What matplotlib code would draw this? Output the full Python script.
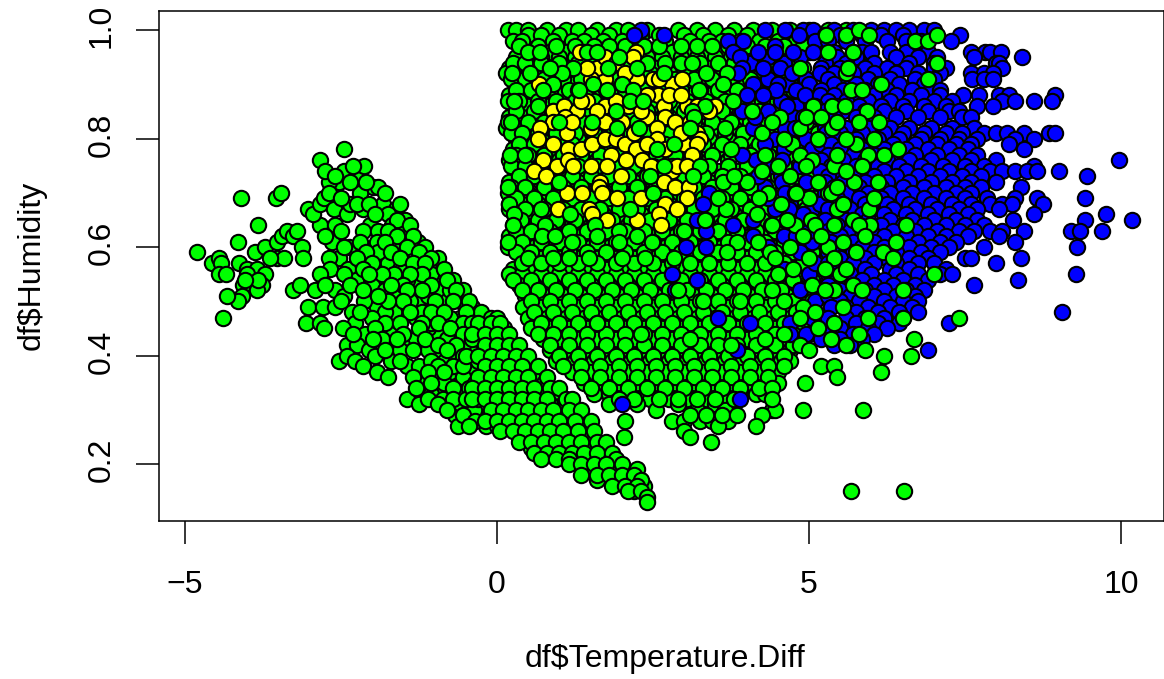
import matplotlib
matplotlib.use("Agg")
import matplotlib.pyplot as plt
from matplotlib.transforms import ScaledTranslation

plt.rcParams['font.family'] = ['Liberation Sans', 'DejaVu Sans']

x_label = "df$Temperature.Diff"
y_label = "df$Humidity"
x_ticks = [-5, 0, 5, 10]
y_ticks = [0.2, 0.4, 0.6, 0.8, 1.0]
x_tick_labels = ["\u22125", "0", "5", "10"]
y_tick_labels = ["0.2", "0.4", "0.6", "0.8", "1.0"]

# left wedge of green points, read individually (temperature diff, humidity)
wedge_left = [
(-2.46,.78),(-2.83,.76),(-4.1,.69),(-3.54,.69),(-3.46,.70),(-3.83,.64),(-4.15,.61),(-4.8,.59),(-4.56,.57),(-4.45,.58),
(-4.42,.57),(-4.45,.55),(-4.34,.55),(-4.13,.57),(-4.0,.56),(-3.85,.56),(-3.72,.55),(-4.0,.55),(-4.07,.53),(-3.77,.53),
(-3.85,.52),(-3.83,.54),(-4.04,.54),(-4.09,.51),(-4.15,.50),(-4.33,.51),(-4.39,.47),(-3.88,.59),(-3.72,.60),(-3.53,.58),
(-3.41,.58),(-3.64,.58),(-3.53,.61),(-3.45,.62),(-3.37,.63),(-3.27,.62),(-3.2,.63),(-3.12,.60),(-3.11,.58),(-3.27,.52),
(-3.15,.53),(-3.06,.46),(-2.84,.46),(-2.78,.45),(-3.03,.49),(-2.79,.49),(-2.92,.52),(-2.6,.49),(-3.03,.67),(-2.84,.64),
(-2.95,.66),(-2.83,.68),(-2.53,.72),(-2.7,.72),(-2.23,.73),(-2.45,.74),(-2.13,.75),(-2.75,.74),(-2.78,.69),(-2.61,.67),
(-2.4,.66),(-2.36,.68),(-1.99,.71),(-2.2,.70),(-1.9,.71),(-1.82,.68),(-1.62,.67),(-1.74,.66),(-1.48,.65),(-1.68,.64),
(-1.5,.63),(-2.04,.64),(-2.15,.67),(-2.15,.63),(-1.9,.63),(-1.93,.61),(-2.65,.61),(-2.37,.60),(-2.53,.58),(-2.7,.58),
(-2.38,.56),(-2.67,.56),(-2.83,.55),(-2.26,.54),(-2.6,.52),(-2.76,.53),(-2.45,.51),(-2.0,.53),(-1.8,.52),(-1.6,.51),
(-1.93,.49),(-2.13,.50),(-2.33,.48),(-2.27,.46),(-2.12,.44),(-2.47,.45),(-2.4,.42),(-2.53,.39),(-2.25,.42),(-2.4,.40),
(-2.28,.39),(-2.05,.41),(-1.95,.40),(-2.15,.38),(-1.92,.37),(-1.75,.36),(-1.7,.39),(-1.45,.38),(-1.25,.38),(-1.72,.44),
(-1.4,.43),(-1.55,.41),(-1.3,.47),(-1.55,.48),(-1.27,.50),(-.93,.49),(-.93,.44),(-.9,.41),(-.83,.39),(-1.2,.35),
(-.95,.36),(-.95,.34),(-.77,.33),(-.57,.34),(-1.45,.32),(-1.25,.31),(-1.05,.33),(-.87,.32),(-.67,.29),(-.62,.27),
(-.57,.31),(-.37,.30),(-.15,.32),(-.13,.29),(-.17,.27),(-1.27,.61),(-1.2,.58),(-1.3,.53),(-.93,.54),(-1.0,.56),
(-.6,.50),(-.48,.47),(-.3,.46),(-.17,.44),(-.47,.38),(-.25,.36),(-.28,.33),(-.07,.42),(-1.6,.60),(-1.75,.57),
(-1.55,.56),(-1.45,.54),(-1.9,.59),(-1.1,.51),(-.9,.52),(-.8,.50),(-.6,.47),(-1.3,.56),(-1.4,.50),(-1.65,.48),
(-1.8,.48),(-1.2,.48),(-1.1,.45),(-1.3,.43),(-1.1,.41),(-.65,.44),(-.4,.41),(-.65,.39),(-.4,.37),(-.65,.36),
(-1.05,.55),(-1.15,.60),(-1.05,.46),(-.75,.47),(-.8,.43),(-.55,.42),(-.75,.37),(-.55,.36),(-.45,.34),(-.85,.35),
(-.75,.52),(-.95,.58),(-.85,.56),(-.7,.54),(-.55,.52),(-.4,.49),(-.25,.48),(-.45,.44),(-.3,.43),(-.15,.40),
]

# more wedge points that close the gaps (temperature diff, humidity)
wedge_fill = [
(-2.6,.73),(-2.35,.72),(-2.1,.72),(-2.3,.75),(-2.7,.70),(-2.5,.69),(-2.25,.68),(-2.05,.68),(-1.8,.70),(-1.55,.68),
(-1.95,.66),(-1.6,.65),(-1.4,.64),(-1.75,.63),(-1.6,.62),(-1.35,.62),(-1.8,.61),(-1.45,.60),(-1.25,.59),(-1.7,.59),
(-1.05,.58),(-1.55,.58),(-1.35,.57),(-1.15,.57),(-1.2,.55),(-1.4,.55),(-1.65,.55),(-1.85,.55),(-1.05,.53),(-.8,.54),
(-1.5,.53),(-1.7,.53),(-1.2,.52),(-.65,.52),(-1.45,.52),(-1.0,.50),(-.7,.50),(-.45,.50),(-1.5,.50),(-1.75,.50),
(-1.05,.48),(-.85,.48),(-.5,.48),(-1.4,.48),(-2.0,.47),(-1.8,.46),(-1.55,.46),(-1.2,.46),(-.95,.46),(-.55,.46),
(-.4,.46),(-1.95,.45),(-1.5,.44),(-1.25,.45),(-.75,.45),(-.55,.44),(-1.85,.43),(-1.6,.43),(-1.15,.43),(-.95,.42),
(-.65,.42),(-.4,.43),(-1.8,.41),(-1.35,.41),(-.8,.41),(-.55,.40),(-1.55,.39),(-1.05,.39),(-.95,.38),(-.7,.38),
(-.55,.38),(-.3,.39),(-1.1,.37),(-.85,.37),(-1.35,.36),(-1.05,.35),(-.7,.34),(-.35,.35),(-1.3,.34),(-1.1,.32),
(-.7,.32),(-.5,.32),(-.3,.32),(-.95,.31),(-.8,.30),(-.55,.29),(-.35,.28),(-.45,.27),(-2.6,.64),(-2.75,.62),
(-2.5,.63),(-2.2,.61),(-2.45,.60),(-2.1,.59),(-2.25,.58),(-2.0,.57),(-2.15,.56),(-2.45,.55),(-2.05,.55),(-2.35,.53),
(-2.15,.52),(-2.5,.50),(-1.9,.51),(-2.2,.48),(-1.98,.43),(-2.3,.44),
(.0,.46),(.12,.45),(.1,.43),(.3,.41),(.2,.39),(.45,.39),(.55,.38),(.4,.37),(.6,.36),(.75,.35),
(.55,.34),(.7,.33),(.9,.33),(1.05,.31),(.85,.31),(.65,.31),(1.2,.30),(1.05,.29),(.85,.29),(.55,.29),
(1.35,.27),(1.15,.27),(.95,.27),(.75,.27),(.45,.27),(1.45,.25),(1.2,.25),(1.0,.25),(.7,.25),(1.65,.23),
(1.45,.23),(1.2,.23),(.9,.23),(1.75,.21),(1.5,.21),(1.25,.21),(1.9,.19),(1.7,.19),(1.45,.19),(2.05,.17),
(1.85,.17),(1.6,.17),(2.2,.15),(2.25,.19),(2.35,.16),(.25,.31),(.45,.33),(.25,.35),(.0,.37),(-.15,.38),
(.1,.33),(-.05,.31),(.15,.29),(.35,.25),(.55,.23),(.0,.27),(.2,.27),(-.05,.35),
]

# right part of the wedge, as (humidity, temperature diffs) rows
wedge_right = [
(.47,[-.1,.0]),(.46,[-.3,-.1,.05]),(.44,[-.4,-.2,.0,.2]),(.42,[-.2,.0,.2,.35]),(.40,[-.5,-.3,-.1,.1,.3,.5]),
(.38,[-.2,.0,.2,.4,.65]),(.36,[-.3,-.1,.1,.3,.5,.8]),(.34,[-.4,-.2,.0,.2,.4,.6,.85,1.0]),
(.32,[-.4,-.2,.0,.2,.4,.6,.8,1.1,1.2]),(.30,[-.1,.1,.3,.5,.7,.9,1.15,1.35]),
(.28,[-.2,.0,.2,.4,.6,.8,1.0,1.25,1.5]),(.26,[.05,.25,.45,.65,.85,1.05,1.3,1.55]),
(.24,[.35,.55,.75,.95,1.15,1.35,1.6,1.75]),(.22,[.6,.8,1.0,1.2,1.4,1.6,1.85]),(.21,[.7,.95,1.15,1.9]),
(.20,[1.15,1.35,1.55,1.75,2.0]),(.18,[1.35,1.6,1.8,2.0,2.2]),(.17,[2.3]),(.16,[1.85,2.05,2.25]),
(.15,[2.1,2.3]),(.14,[2.4]),(.13,[2.4]),
]

# dense green block, as (humidity, temperature diffs) rows
block_rows = [
(1.00,[.18,.3,.5,.8,1.1,1.3,1.6,1.9,2.1,2.4,2.9,3.2,3.5,3.8,4.1,4.4,4.7,5.0,5.3,5.6]),
(.99,[.5,.7,1.0,1.5,1.8,2.3,2.6,3.0,3.3,3.7,4.0]),
(.98,[.25,.4,.9,1.2,1.4,1.7,2.0,2.2,2.7,3.1,3.4,3.6,3.9,4.2,4.5,4.8,5.1]),
(.96,[.4,.6,.85,1.1,1.4,1.7,1.95,2.3,2.5,2.8,3.05,3.3,3.6,3.85,4.1,4.4,4.7,5.0]),
(.95,[.3,.7,1.0,1.25,1.55,1.85,2.15,2.4,2.65,2.95,3.2,3.5,3.75]),
(.93,[.2,.35,.55,.85,1.15,1.4,1.7,2.0,2.3,2.55,2.85,3.1,3.4,3.7,4.0,4.3,4.6,4.9,5.2]),
(.92,[.15,.3,.5,.75,1.05,1.3,1.6,1.9,2.2,2.45,2.75,3.0,3.3,3.6,3.9,4.2,4.5,4.8]),
(.90,[.3,.6,.9,1.2,1.5,1.8,2.1,2.4,2.7,3.0,3.3,3.6,3.85,4.15,4.4,4.7,5.0]),
(.88,[.2,.4,.7,1.0,1.3,1.6,1.9,2.2,2.5,2.8,3.1,3.4,3.7,4.0,4.3,4.6,4.9,5.2]),
(.86,[.25,.5,.8,1.1,1.4,1.7,2.0,2.3,2.6,2.9,3.2,3.5,3.8,4.1,4.4,4.7,5.0]),
(.84,[.2,.4,.65,.95,1.25,1.55,1.85,2.15,2.45,2.75,3.05,3.35,3.65,3.95,4.25,4.55,4.85,5.15]),
(.82,[.15,.3,.55,.8,1.1,1.4,1.7,2.0,2.3,2.6,2.9,3.2,3.5,3.8,4.1,4.4,4.7,5.0]),
(.80,[.3,.45,.7,1.0,1.3,1.6,1.9,2.2,2.5,2.8,3.1,3.4,3.7,4.0,4.3,4.6,4.9,5.2]),
(.78,[.25,.55,.85,1.15,1.45,1.75,2.05,2.35,2.65,2.95,3.25,3.55,3.85,4.15,4.45,4.75,5.05]),
(.76,[.2,.4,.7,1.0,1.3,1.6,1.9,2.2,2.5,2.8,3.1,3.4,3.7,4.0,4.3,4.6,4.9,5.2]),
(.74,[.3,.55,.85,1.15,1.45,1.75,2.05,2.35,2.65,2.95,3.25,3.55,3.85,4.15,4.45,4.75,5.05]),
(.72,[.2,.4,.7,1.0,1.3,1.6,1.9,2.2,2.5,2.8,3.1,3.4,3.7,4.0,4.3,4.6,4.9,5.2]),
(.70,[.18,.5,.8,1.1,1.4,1.7,2.0,2.3,2.6,2.9,3.2,3.5,3.8,4.1,4.4,4.7,5.0,5.3]),
(.68,[.2,.4,.65,.95,1.25,1.55,1.85,2.15,2.45,2.75,3.05,3.35,3.65,3.95,4.25,4.55,4.85,5.15]),
(.66,[.27,.5,.8,1.1,1.4,1.7,2.0,2.3,2.6,2.9,3.2,3.5,3.8,4.1,4.4,4.7,5.0,5.3]),
(.64,[.25,.6,.9,1.2,1.5,1.8,2.1,2.4,2.7,3.0,3.3,3.6,3.9,4.2,4.5,4.8,5.1]),
(.62,[.2,.45,.75,1.05,1.35,1.65,1.95,2.25,2.55,2.85,3.15,3.45,3.75,4.05,4.35,4.65,4.95,5.25]),
(.60,[.18,.6,.9,1.2,1.5,1.8,2.1,2.4,2.7,3.0,3.3,3.6,3.9,4.2,4.5,4.8,5.1]),
(.58,[.4,.7,1.0,1.3,1.6,1.9,2.2,2.5,2.8,3.1,3.4,3.7,4.0,4.3,4.6,4.9,5.2]),
(.56,[.25,.55,.85,1.15,1.45,1.75,2.05,2.35,2.65,2.95,3.25,3.55,3.85,4.15,4.45,4.75,5.05]),
(.55,[.2,.4,.7,1.0,1.3,1.6,1.9,2.2,2.5,2.8,3.1,3.4,3.7,4.0,4.3,4.6,4.9,5.2]),
(.53,[.35,.6,.9,1.2,1.5,1.8,2.1,2.4,2.7,3.0,3.3,3.6,3.9,4.2,4.5,4.8,5.1]),
(.51,[.45,.75,1.05,1.35,1.65,1.95,2.25,2.55,2.85,3.15,3.45,3.75,4.05,4.35,4.65,4.95,5.25]),
(.49,[.42,.7,1.0,1.3,1.6,1.9,2.2,2.5,2.8,3.1,3.4,3.7,4.0,4.3,4.6,4.9]),
(.47,[.5,.8,1.1,1.4,1.7,2.0,2.3,2.6,2.9,3.2,3.5,3.8,4.1,4.4,4.7,5.0]),
(.45,[.55,.85,1.15,1.45,1.75,2.05,2.35,2.65,2.95,3.25,3.55,3.85,4.15,4.45,4.75,5.05]),
(.43,[.74,1.0,1.3,1.6,1.9,2.2,2.5,2.8,3.1,3.4,3.7,4.0,4.3,4.6,4.85]),
(.41,[.85,1.15,1.45,1.75,2.05,2.35,2.65,2.95,3.25,3.55,3.85,4.15,4.45,4.7]),
(.39,[.95,1.25,1.55,1.85,2.15,2.45,2.75,3.05,3.35,3.65,3.95,4.25,4.55,4.7]),
(.37,[1.2,1.5,1.8,2.1,2.4,2.7,3.0,3.3,3.6,3.9,4.2,4.5]),
(.35,[1.4,1.65,1.95,2.25,2.55,2.85,3.15,3.45,3.75,4.05,4.35,4.5,4.94]),
(.33,[1.55,1.8,2.1,2.4,2.7,3.0,3.3,3.6,3.9,4.15,4.3]),
(.32,[2.45,2.75,3.05,3.35,3.65]),
(.31,[1.8,2.25,2.9,3.5,3.8]),
(.30,[2.55,3.2,3.65,4.4,4.45,4.9]),
(.29,[4.25]),
(.28,[2.05,2.8,3.0,3.25,3.45,3.7]),
(.27,[3.55,4.15]),(.26,[3.0]),(.25,[2.03,3.1]),(.24,[3.43]),
(.15,[5.67,6.52]),
]

# second layer of the green block, closing the gaps between the rows above
block_fill_rows = [
(.97,[.35,.65,.95,1.25,1.55,1.8,2.05,2.35,2.6,2.95,3.2,3.45,3.7,4.0,4.3,4.6,4.9]),
(.94,[.25,.45,.7,1.0,1.3,1.55,1.85,2.1,2.4,2.7,2.95,3.25,3.55,3.8,4.15,4.45,4.75]),
(.91,[.22,.45,.75,1.05,1.35,1.65,1.95,2.25,2.55,2.85,3.15,3.45,3.75,4.05,4.35,4.65,4.95]),
(.89,[.3,.55,.85,1.15,1.45,1.75,2.05,2.35,2.65,2.95,3.25,3.55,3.85,4.15,4.45,4.75,5.05]),
(.87,[.18,.35,.65,.95,1.25,1.55,1.85,2.15,2.45,2.75,3.05,3.35,3.65,3.95,4.25,4.55,4.85,5.15]),
(.85,[.3,.6,.9,1.2,1.5,1.8,2.1,2.4,2.7,3.0,3.3,3.6,3.9,4.2,4.5,4.8,5.1]),
(.83,[.17,.5,.75,1.05,1.35,1.65,1.95,2.25,2.55,2.85,3.15,3.45,3.75,4.05,4.35,4.65,4.95,5.25]),
(.81,[.22,.4,.65,.95,1.25,1.55,1.85,2.15,2.45,2.75,3.05,3.35,3.65,3.95,4.25,4.55,4.85,5.15]),
(.79,[.35,.6,.9,1.2,1.5,1.8,2.1,2.4,2.7,3.0,3.3,3.6,3.9,4.2,4.5,4.8,5.1]),
(.77,[.3,.5,.75,1.05,1.35,1.65,1.95,2.25,2.55,2.85,3.15,3.45,3.75,4.05,4.35,4.65,4.95,5.25]),
(.75,[.22,.45,.7,1.0,1.3,1.6,1.9,2.2,2.5,2.8,3.1,3.4,3.7,4.0,4.3,4.6,4.9,5.2]),
(.73,[.35,.6,.9,1.2,1.5,1.8,2.1,2.4,2.7,3.0,3.3,3.6,3.9,4.2,4.5,4.8,5.1]),
(.71,[.22,.45,.75,1.05,1.35,1.65,1.95,2.25,2.55,2.85,3.15,3.45,3.75,4.05,4.35,4.65,4.95,5.25]),
(.69,[.3,.6,.9,1.2,1.5,1.8,2.1,2.4,2.7,3.0,3.3,3.6,3.9,4.2,4.5,4.8,5.1]),
(.67,[.2,.45,.75,1.05,1.35,1.65,1.95,2.25,2.55,2.85,3.15,3.45,3.75,4.05,4.35,4.65,4.95,5.25]),
(.65,[.38,.65,.95,1.25,1.55,1.85,2.15,2.45,2.75,3.05,3.35,3.65,3.95,4.25,4.55,4.85,5.15]),
(.63,[.3,.55,.85,1.15,1.45,1.75,2.05,2.35,2.65,2.95,3.25,3.55,3.85,4.15,4.45,4.75,5.05]),
(.61,[.4,.7,1.0,1.3,1.6,1.9,2.2,2.5,2.8,3.1,3.4,3.7,4.0,4.3,4.6,4.9,5.2]),
(.59,[.3,.55,.85,1.15,1.45,1.75,2.05,2.35,2.65,2.95,3.25,3.55,3.85,4.15,4.45,4.75,5.05]),
(.57,[.4,.7,1.0,1.3,1.6,1.9,2.2,2.5,2.8,3.1,3.4,3.7,4.0,4.3,4.6,4.9,5.2]),
(.54,[.25,.55,.85,1.15,1.45,1.75,2.05,2.35,2.65,2.95,3.25,3.55,3.85,4.15,4.45,4.75,5.05]),
(.52,[.4,.65,.95,1.25,1.55,1.85,2.15,2.45,2.75,3.05,3.35,3.65,3.95,4.25,4.55,4.85,5.15]),
(.50,[.55,.85,1.15,1.45,1.75,2.05,2.35,2.65,2.95,3.25,3.55,3.85,4.15,4.45,4.75,5.05]),
(.48,[.6,.9,1.2,1.5,1.8,2.1,2.4,2.7,3.0,3.3,3.6,3.9,4.2,4.5,4.8,5.1]),
(.46,[.7,1.0,1.3,1.6,1.9,2.2,2.5,2.8,3.1,3.4,3.7,4.0,4.3,4.6,4.9]),
(.44,[.65,.9,1.15,1.45,1.75,2.05,2.35,2.65,2.95,3.25,3.55,3.85,4.15,4.45,4.75,5.0]),
(.42,[.85,1.15,1.45,1.75,2.05,2.35,2.65,2.95,3.25,3.55,3.85,4.15,4.45,4.75]),
(.40,[1.0,1.3,1.6,1.9,2.2,2.5,2.8,3.1,3.4,3.7,4.0,4.3,4.6]),
(.38,[1.05,1.35,1.65,1.95,2.25,2.55,2.85,3.15,3.45,3.75,4.05,4.35,4.6]),
(.36,[1.35,1.65,1.95,2.25,2.55,2.85,3.15,3.45,3.75,4.05,4.35]),
(.34,[1.5,1.8,2.1,2.4,2.7,3.0,3.3,3.6,3.9,4.2,4.4]),
(.32,[1.95,2.2,2.6,2.9,3.2,3.5,3.8,4.4]),
(.29,[3.1,3.35,3.6,3.85]),
]

# yellow points (temperature diff, humidity)
yellow_points = [
(2.22,.96),(.68,.90),(2.8,.90),(2.96,.91),(2.5,.91),(2.6,.91),(2.24,.91),(1.73,.91),(1.6,.93),(1.33,.96),(1.73,.95),(2.18,.95),
(.9,.85),(1.07,.86),(1.28,.85),(1.44,.87),(1.73,.86),(2.58,.88),(2.67,.86),(3.04,.86),(3.5,.86),(3.39,.85),(2.4,.84),(2.69,.84),
(.9,.83),(1.09,.84),(.69,.82),(.66,.80),(1.12,.81),(1.73,.83),(2.0,.83),(2.56,.82),(3.2,.81),(3.25,.80),(.9,.79),(1.13,.78),
(1.34,.78),(1.53,.79),(1.73,.80),(1.9,.80),(2.05,.79),(2.22,.78),(2.56,.80),(3.0,.79),(3.2,.79),(3.12,.77),(1.83,.77),(2.06,.76),
(2.32,.76),(.74,.76),(.96,.75),(1.14,.76),(1.5,.75),(1.77,.75),(2.47,.75),(.6,.74),(.78,.73),(1.22,.75),(2.8,.74),(2.88,.75),
(3.04,.75),(1.98,.73),(1.65,.72),(1.63,.71),(2.67,.72),(2.85,.71),(3.08,.71),(1.12,.70),(1.36,.70),(1.68,.70),(1.92,.69),(2.3,.69),
(3.04,.69),(2.69,.68),(.98,.67),(1.47,.67),(2.89,.67),(1.52,.66),(2.6,.66),(1.76,.65),(2.25,.65),(2.63,.64),(2.4,.88),(2.1,.86),
(1.5,.82),(2.2,.81),(2.7,.78),(2.4,.79),(1.3,.89),(1.5,.91),(1.9,.94),(2.0,.90),(1.2,.83),(1.35,.87),(2.3,.85),(2.85,.83),
(3.1,.83),(2.95,.81),(1.6,.85),(1.9,.87),(2.05,.92),(1.45,.93),(2.75,.88),(2.95,.88),(3.2,.86),
]

# blue points mixed into the green block (temperature diff, humidity)
blue_mix = [
(3.95,.98),(4.45,.97),(4.05,.94),(4.35,.95),(4.6,.94),(4.85,.95),(4.1,.90),(4.35,.91),(4.65,.90),(4.95,.91),
(4.0,.88),(4.55,.87),(4.8,.86),(4.35,.85),(4.1,.82),(4.45,.80),(4.75,.84),(4.95,.80),(4.3,.79),(4.6,.78),
(4.15,.76),(4.85,.75),(5.05,.78),(4.55,.73),(4.95,.72),(4.3,.71),(4.7,.68),(5.05,.67),(4.45,.67),(4.9,.66),
(4.1,.65),(4.6,.62),(5.05,.61),(4.35,.60),(4.85,.59),(4.6,.56),(5.0,.55),(4.85,.52),(5.1,.50),(5.05,.47),
(4.95,.44),(4.7,.46),
]

# dense blue region, as (humidity, temperature diffs) rows
blue_rows = [
(1.00,[2.3,4.3,4.62,4.9,5.06,5.4,5.7,6.0,6.2,6.4,6.6,6.85,7.0]),
(.99,[2.2,2.68,4.84,5.25,5.5,5.85,6.15,6.5,7.42]),
(.98,[3.7,5.1,5.3,5.6,5.9,6.25,6.55,6.8,7.28]),
(.96,[3.79,4.19,4.46,4.75,5.07,5.4,5.7,5.85,6.0,6.3,6.55,6.9,7.59,7.82,7.9,8.07]),
(.95,[3.9,5.45,5.75,6.4,6.75,7.05,7.65,8.42]),
(.94,[5.25,5.6,6.05,6.6,7.0,8.0,8.05]),
(.93,[3.93,4.26,4.54,5.2,5.5,5.9,6.25,6.55,7.0,7.2,8.1]),
(.92,[3.87,4.72,5.17,5.4,5.7,6.05,6.4,6.75,7.1,7.6,7.8,7.95]),
(.91,[5.3,5.6,5.95,6.3,6.7,7.0,7.62,7.8,7.95]),
(.90,[4.5,5.0,5.4,5.75,6.1,6.45,6.85]),
(.89,[4.47,4.8,5.2,5.55,5.9,6.25,6.65,6.95,7.1]),
(.88,[4.27,4.94,5.18,5.4,5.7,6.05,6.4,6.8,7.1,7.47,7.73,8.05,8.2,8.95]),
(.87,[5.3,5.6,5.95,6.3,6.6,7.0,7.3,8.1,8.31,8.6,8.9]),
(.86,[4.64,5.1,5.45,5.8,6.15,6.5,6.85,7.2,7.7,7.95]),
(.85,[3.92,5.25,5.55,5.9,6.2,6.55,6.9,7.25,7.4]),
(.84,[4.13,4.9,5.15,5.4,5.75,6.05,6.4,6.75,7.1,7.45,7.6]),
(.82,[4.62,4.78,5.25,5.6,5.95,6.3,6.6,6.95,7.3,7.65]),
(.81,[5.28,5.5,5.85,6.2,6.5,6.85,7.2,7.45,7.8,8.0,8.17,8.45,8.85,8.95]),
(.80,[5.15,5.45,5.75,6.1,6.45,6.8,7.1,7.4,7.7,8.3,8.6]),
(.79,[5.2,5.35,5.65,6.0,6.35,6.7,7.05,7.35,7.6,8.2]),
(.78,[5.5,5.85,6.2,6.55,6.9,7.25,7.55,8.45]),
(.77,[3.92,5.3,5.7,6.05,6.35,6.7,7.05,7.4,7.7]),
(.76,[4.56,5.2,5.55,5.9,6.25,6.6,6.95,7.3,7.6,8.0,9.97]),
(.75,[4.43,5.35,5.75,6.1,6.45,6.8,7.15,7.5,7.8,8.6]),
(.74,[5.17,5.5,5.85,6.2,6.55,6.9,7.25,7.6,7.9,8.1,8.3,8.5,8.65,9.0]),
(.73,[4.19,5.3,5.7,6.05,6.4,6.75,7.1,7.45,7.75,9.45]),
(.72,[4.56,5.26,5.55,5.9,6.25,6.6,6.95,7.3,7.6,8.0]),
(.71,[5.4,5.8,6.15,6.5,6.85,7.2,7.5,7.75,8.4]),
(.70,[3.4,4.62,4.78,5.25,5.6,5.95,6.3,6.65,7.0,7.35,7.6]),
(.69,[4.34,5.45,5.8,6.15,6.5,6.85,7.2,7.5,7.85,8.3,8.65,9.43]),
(.68,[3.3,5.17,5.55,5.9,6.25,6.6,6.95,7.3,7.6,7.9,8.1,8.25,8.75]),
(.67,[4.68,5.3,5.65,6.0,6.35,6.7,7.05,7.4,7.7,8.05]),
(.66,[5.5,5.85,6.2,6.55,6.9,7.25,7.55,8.6,9.76]),
(.65,[3.2,5.25,5.6,5.95,6.3,6.65,7.0,7.35,7.7,8.27,9.43,10.17]),
(.64,[3.79,4.39,5.45,5.8,6.15,6.5,6.85,7.2,7.5,7.8]),
(.63,[3.35,5.0,5.3,5.65,6.0,6.35,6.7,7.05,7.4,7.65,7.9,8.1,8.45,9.2,9.35,9.7]),
(.62,[4.1,4.8,5.5,5.85,6.2,6.55,6.9,7.2,7.55,8.05]),
(.61,[5.35,5.7,6.05,6.4,6.75,7.1,7.35,8.3]),
(.60,[3.03,3.35,5.5,5.85,6.2,6.6,6.95,7.25,7.8,9.3]),
(.59,[5.3,5.7,6.05,6.4,6.8,7.1]),
(.58,[5.5,5.9,6.25,6.6,6.9,7.5,7.6,8.4]),
(.57,[5.1,5.3,5.7,6.05,6.4,6.75,7.0,8.0]),
(.56,[5.5,5.9,6.3,6.6,7.2]),
(.55,[2.8,5.3,5.65,6.0,6.4,6.75,7.1,7.3,9.28]),
(.54,[3.2,5.45,5.85,6.2,6.5,6.9,8.35]),
(.53,[5.3,5.7,6.05,6.35,6.7,7.65]),
(.52,[2.85,5.5,5.9,6.2,6.55,6.85]),
(.51,[5.3,5.65,6.05,6.4,6.7]),
(.50,[5.5,5.8,6.2,6.5,6.75]),
(.49,[5.35,5.6,5.95,6.3,6.65]),
(.48,[5.75,6.1,6.45,6.75,9.05]),
(.47,[3.55,5.3,5.6,5.9,6.2,6.5]),
(.46,[4.05,5.4,5.75,6.1,6.45,7.25]),
(.45,[5.5,5.95,6.25]),
(.44,[4.7,5.2,5.3,5.7,6.05]),
(.43,[5.2,5.5,5.85]),
(.42,[5.4,5.65]),
(.41,[3.85,6.9]),
(.32,[3.9]),
(.31,[2.0]),
]

# green points lying on top of the yellow and blue ones (temperature diff, humidity)
top_green = [
(.49,.96),(.69,.96),(1.44,.96),(1.61,.96),(1.95,.95),(1.22,.93),(1.04,.92),(.85,.93),(.53,.92),(.24,.92),(1.78,.93),(2.24,.93),
(3.12,.94),(2.67,.92),(3.35,.92),(3.69,.92),(.89,.90),(1.54,.90),(2.0,.90),(.74,.89),(1.31,.89),(1.77,.89),(2.18,.89),(3.23,.89),
(3.63,.90),(.27,.87),(.66,.86),(2.13,.87),(2.34,.87),(1.9,.85),(3.79,.87),(3.33,.86),(3.12,.85),(3.16,.84),(3.65,.82),(4.08,.85),
(1.0,.83),(.23,.83),(1.52,.83),(1.93,.82),(2.27,.82),(3.09,.82),(4.24,.81),(4.53,.84),(5.07,.86),(4.86,.93),(.21,.77),(.45,.77),
(2.56,.78),(2.83,.79),(3.75,.78),(4.72,.79),(4.3,.77),(4.85,.77),(5.05,.76),(3.25,.75),(2.67,.75),(3.14,.73),(2.45,.73),(1.0,.72),
(.18,.71),(3.63,.72),(4.0,.72),(3.8,.73),(2.5,.70),(5.0,.69),(5.3,.70),(.2,.68),(.7,.67),(.27,.66),(1.17,.66),(2.13,.67),
(3.67,.67),(3.55,.69),(4.16,.66),(3.33,.65),(5.04,.65),(4.78,.64),(.25,.64),(.77,.64),(1.57,.64),(.18,.61),(.72,.62),(.93,.62),
(1.2,.61),(1.61,.62),(1.96,.63),(1.96,.61),(2.25,.62),(2.49,.61),(3.0,.63),(3.84,.61),(4.19,.61),(.49,.58),(.7,.57),(.9,.58),
(1.16,.58),(1.47,.58),(2.0,.58),(2.37,.58),(2.83,.58),(3.39,.57),(3.68,.59),(4.37,.59),
(5.6,.99),(5.8,1.0),(5.97,.99),(6.7,.98),(6.9,.98),(7.05,.99),(5.27,.99),(5.3,.96),(5.7,.96),(7.05,.94),(5.6,.92),(5.63,.93),
(6.9,.91),(6.15,.90),(5.67,.89),(5.85,.89),(5.37,.86),(5.57,.86),(5.93,.85),(6.12,.83),(5.37,.82),(5.75,.79),(6.2,.77),(6.42,.78),
(5.95,.77),(5.4,.75),(5.72,.72),(6.1,.72),(5.35,.70),(5.97,.67),(5.45,.67),(5.7,.65),(5.98,.64),(5.8,.64),(6.55,.64),(6.4,.61),
(6.18,.59),(6.35,.58),(5.3,.60),(5.5,.55),(5.7,.53),(5.85,.52),(5.95,.47),(5.8,.44),(6.5,.47),(6.5,.52),(7.0,.55),(7.4,.47),
(5.35,.43),(5.2,.38),(6.68,.43),(6.63,.40),(6.2,.40),(6.15,.37),(5.9,.41),(5.4,.38),(5.45,.36),(5.87,.30),
(2.9,.52),(3.3,.50),(3.9,.50),(4.4,.52),(4.9,.49),(1.6,.46),(2.3,.44),(3.1,.43),(3.75,.42),(4.3,.43),
(5.45,.83),(5.6,.80),(5.45,.77),(5.6,.74),(5.45,.71),(5.55,.68),(5.4,.64),(5.55,.61),(5.4,.58),(5.6,.56),
(5.4,.52),(5.55,.49),(5.4,.46),(5.6,.42),(5.75,.59),(5.9,.62),(6.05,.69),(5.85,.75),(6.05,.80),(5.8,.83),
(4.5,.75),(4.7,.73),(4.35,.70),(4.55,.68),(4.8,.70),(4.95,.75),(5.15,.72),(4.4,.64),(4.65,.65),(4.9,.62),
(5.1,.64),(4.45,.58),(4.7,.60),(5.0,.58),(5.2,.62),(4.5,.55),(4.75,.56),(5.05,.53),(5.25,.56),(4.6,.50),
(4.85,.47),(5.1,.48),(5.25,.52),(4.6,.44),(4.85,.42),(5.0,.41),(5.15,.45),(4.6,.80),(4.85,.82),(5.15,.80),
(4.4,.83),(4.95,.84),(5.2,.84),(4.25,.74),(4.2,.69),
]


def expand_rows(rows):
    return [(t, h) for h, values in rows for t in values]


fig = plt.figure(figsize=(11.64, 6.79), dpi=100)
ax = fig.add_axes([159 / 1164, 1 - 521 / 679, 1 - 159 / 1164, (521 - 11) / 679])


def draw(points, colour):
    ts = [p[0] for p in points]
    hs = [p[1] for p in points]
    ax.scatter(ts, hs, s=122, c=colour, edgecolors="black", linewidths=1.5, clip_on=True)


draw(expand_rows(block_rows) + expand_rows(block_fill_rows), "#00FF00")
draw(wedge_left + wedge_fill + expand_rows(wedge_right), "#00FF00")
draw(yellow_points, "#FFFF00")
draw(blue_mix + expand_rows(blue_rows), "#0000FF")
draw(top_green, "#00FF00")

ax.set_xlim(-5.417, 10.69)
ax.set_ylim(0.095, 1.035)
ax.set_xticks(x_ticks)
ax.set_xticklabels(x_tick_labels, fontsize=23)
ax.set_yticks(y_ticks)
ax.set_yticklabels(y_tick_labels, fontsize=23, rotation=90, va="center")
ax.tick_params(axis="x", length=16.5, width=1.1, pad=19)
ax.tick_params(axis="y", length=16.5, width=1.1, pad=14)
up = ScaledTranslation(0, 4 / 100, fig.dpi_scale_trans)
for lab in ax.get_yticklabels():
    lab.set_transform(lab.get_transform() + up)
for s in ax.spines.values():
    s.set_linewidth(1.1)
ax.set_xlabel(x_label, fontsize=23, labelpad=31.5, x=0.5035)
ax.set_ylabel(y_label, fontsize=23, labelpad=29, y=0.502)

fig.savefig("out.png", dpi=100)
